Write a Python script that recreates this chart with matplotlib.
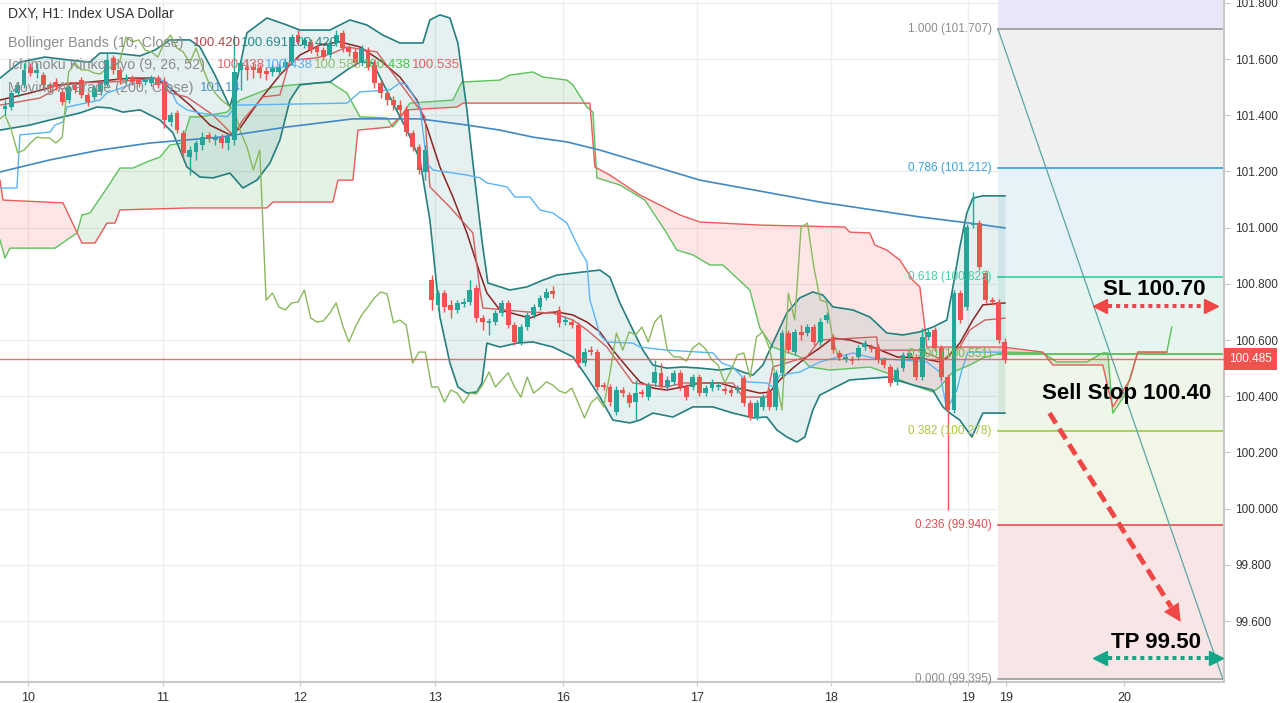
import numpy as np
import matplotlib.pyplot as plt
from matplotlib.transforms import blended_transform_factory

plt.rcParams['font.family'] = ['Liberation Sans', 'DejaVu Sans']

W, H = 1280, 703

# ---- H1 candles, one per bar index ----
opens = [
    101.422, 101.429, 101.479, 101.508, 101.572, 101.550, 101.543, 101.508, 101.518, 101.483,
    101.454, 101.508, 101.525, 101.472, 101.465, 101.483, 101.508, 101.604, 101.561, 101.525,
    101.532, 101.525, 101.518, 101.515, 101.532, 101.518, 101.376, 101.408, 101.337, 101.251,
    101.269, 101.294, 101.330, 101.312, 101.319, 101.301, 101.312, 101.561, 101.572, 101.572,
    101.568, 101.557, 101.554, 101.554, 101.572, 101.589, 101.685, 101.650, 101.661, 101.643,
    101.632, 101.614, 101.657, 101.693, 101.639, 101.625, 101.586, 101.632, 101.579, 101.515,
    101.479, 101.454, 101.436, 101.419, 101.337, 101.287, 101.198, 100.814, 100.725, 100.767,
    100.725, 100.707, 100.728, 100.735, 100.785, 100.678, 100.661, 100.664, 100.696, 100.732,
    100.653, 100.593, 100.646, 100.689, 100.718, 100.750, 100.774, 100.707, 100.664, 100.664,
    100.653, 100.518, 100.564, 100.557, 100.440, 100.433, 100.344, 100.422, 100.404, 100.379,
    100.415, 100.397, 100.447, 100.483, 100.433, 100.451, 100.483, 100.433, 100.433, 100.468,
    100.411, 100.429, 100.433, 100.426, 100.422, 100.422, 100.465, 100.376, 100.323, 100.362,
    100.415, 100.362, 100.483, 100.625, 100.557, 100.629, 100.625, 100.646, 100.593, 100.671,
    100.611, 100.554, 100.532, 100.532, 100.540, 100.575, 100.575, 100.575, 100.529, 100.504,
    100.451, 100.500, 100.540, 100.540, 100.468, 100.611, 100.636, 100.572, 100.468, 100.351,
    100.767, 100.718, 101.009, 101.016, 100.839, 100.742, 100.735, 100.593]
highs = [
    101.454, 101.490, 101.518, 101.586, 101.586, 101.586, 101.554, 101.518, 101.532, 101.497,
    101.508, 101.518, 101.536, 101.483, 101.508, 101.525, 101.621, 101.614, 101.572, 101.547,
    101.543, 101.536, 101.536, 101.543, 101.543, 101.536, 101.411, 101.419, 101.347, 101.290,
    101.312, 101.340, 101.340, 101.333, 101.333, 101.337, 101.685, 101.604, 101.596, 101.589,
    101.582, 101.572, 101.582, 101.586, 101.604, 101.689, 101.703, 101.678, 101.671, 101.653,
    101.643, 101.668, 101.703, 101.703, 101.650, 101.639, 101.650, 101.643, 101.596, 101.525,
    101.490, 101.468, 101.454, 101.433, 101.347, 101.298, 101.294, 100.831, 100.778, 100.778,
    100.742, 100.742, 100.750, 100.814, 100.796, 100.689, 100.678, 100.707, 100.742, 100.742,
    100.664, 100.657, 100.700, 100.728, 100.760, 100.785, 100.792, 100.721, 100.686, 100.675,
    100.664, 100.572, 100.579, 100.568, 100.451, 100.443, 100.436, 100.433, 100.415, 100.458,
    100.426, 100.451, 100.529, 100.518, 100.472, 100.493, 100.493, 100.443, 100.479, 100.479,
    100.440, 100.461, 100.451, 100.436, 100.433, 100.440, 100.475, 100.387, 100.387, 100.408,
    100.429, 100.493, 100.636, 100.636, 100.639, 100.653, 100.657, 100.657, 100.678, 100.700,
    100.621, 100.564, 100.550, 100.543, 100.582, 100.600, 100.586, 100.586, 100.540, 100.515,
    100.504, 100.557, 100.564, 100.550, 100.643, 100.639, 100.646, 100.582, 100.479, 100.778,
    100.778, 101.013, 101.127, 101.027, 100.849, 100.753, 100.746, 100.607]
lows = [
    101.401, 101.419, 101.465, 101.497, 101.540, 101.532, 101.497, 101.483, 101.490, 101.436,
    101.443, 101.479, 101.461, 101.433, 101.454, 101.472, 101.497, 101.547, 101.511, 101.515,
    101.508, 101.500, 101.508, 101.504, 101.497, 101.354, 101.362, 101.337, 101.248, 101.187,
    101.241, 101.276, 101.305, 101.294, 101.283, 101.276, 101.294, 101.490, 101.525, 101.532,
    101.532, 101.525, 101.540, 101.540, 101.561, 101.579, 101.650, 101.639, 101.621, 101.611,
    101.596, 101.604, 101.646, 101.625, 101.611, 101.575, 101.575, 101.561, 101.497, 101.461,
    101.436, 101.419, 101.401, 101.326, 101.273, 101.191, 101.169, 100.707, 100.707, 100.700,
    100.678, 100.696, 100.718, 100.725, 100.664, 100.636, 100.618, 100.653, 100.686, 100.643,
    100.582, 100.582, 100.636, 100.678, 100.707, 100.742, 100.750, 100.646, 100.653, 100.643,
    100.504, 100.508, 100.547, 100.422, 100.422, 100.365, 100.333, 100.397, 100.362, 100.315,
    100.397, 100.387, 100.436, 100.422, 100.422, 100.440, 100.422, 100.387, 100.422, 100.401,
    100.401, 100.419, 100.422, 100.408, 100.401, 100.411, 100.365, 100.315, 100.315, 100.351,
    100.351, 100.351, 100.472, 100.554, 100.547, 100.600, 100.614, 100.582, 100.582, 100.661,
    100.554, 100.529, 100.522, 100.515, 100.529, 100.564, 100.557, 100.518, 100.500, 100.436,
    100.440, 100.490, 100.529, 100.458, 100.458, 100.600, 100.561, 100.458, 99.995, 100.340,
    100.661, 100.707, 100.999, 100.849, 100.732, 100.725, 100.589, 100.518]
closes = [
    101.433, 101.479, 101.508, 101.561, 101.550, 101.561, 101.508, 101.497, 101.500, 101.447,
    101.500, 101.490, 101.472, 101.447, 101.497, 101.515, 101.596, 101.561, 101.525, 101.532,
    101.518, 101.511, 101.525, 101.532, 101.508, 101.383, 101.401, 101.347, 101.266, 101.276,
    101.301, 101.322, 101.319, 101.319, 101.301, 101.322, 101.554, 101.586, 101.561, 101.561,
    101.550, 101.547, 101.568, 101.572, 101.589, 101.678, 101.661, 101.668, 101.632, 101.625,
    101.607, 101.657, 101.685, 101.639, 101.625, 101.586, 101.639, 101.572, 101.515, 101.479,
    101.454, 101.436, 101.419, 101.340, 101.287, 101.205, 101.276, 100.742, 100.767, 100.718,
    100.707, 100.732, 100.735, 100.778, 100.678, 100.664, 100.668, 100.696, 100.732, 100.653,
    100.593, 100.646, 100.689, 100.718, 100.750, 100.771, 100.764, 100.661, 100.671, 100.653,
    100.518, 100.557, 100.557, 100.433, 100.433, 100.379, 100.422, 100.411, 100.376, 100.411,
    100.408, 100.440, 100.486, 100.433, 100.458, 100.483, 100.433, 100.397, 100.468, 100.411,
    100.429, 100.451, 100.440, 100.419, 100.411, 100.429, 100.376, 100.323, 100.376, 100.397,
    100.362, 100.483, 100.625, 100.564, 100.629, 100.618, 100.646, 100.593, 100.664, 100.689,
    100.564, 100.540, 100.540, 100.525, 100.572, 100.589, 100.568, 100.529, 100.511, 100.447,
    100.493, 100.547, 100.554, 100.468, 100.611, 100.629, 100.572, 100.468, 100.351, 100.767,
    100.671, 101.002, 101.016, 100.860, 100.742, 100.735, 100.600, 100.529]

day_pos = [3.61, 24.80, 46.31, 67.50, 87.60, 108.63, 129.67, 151.18, 157.14, 175.67]
day_labels = ['10', '11', '12', '13', '16', '17', '18', '19', '19', '20']

# ---- indicator traces (bar index, price) ----
ma200 = [(-0.78, 101.198), (7.06, 101.241), (14.91, 101.276), (22.76, 101.301), (33.75, 101.322),
         (44.27, 101.358), (54.63, 101.387), (65.15, 101.387), (72.53, 101.365), (77.71, 101.347),
         (82.89, 101.322), (88.23, 101.305), (93.41, 101.276), (109.11, 101.169), (127.94, 101.091),
         (143.64, 101.038), (151.49, 101.016), (157.0, 100.999)]

bb_upper = [(-0.78, 101.532), (2.35, 101.589), (6.28, 101.607), (10.20, 101.596), (13.34, 101.589),
            (14.91, 101.621), (17.27, 101.621), (21.19, 101.611), (23.55, 101.632), (25.90, 101.668),
            (29.04, 101.668), (30.61, 101.643), (32.97, 101.543), (35.32, 101.429), (36.42, 101.525),
            (37.99, 101.693), (41.13, 101.746), (44.27, 101.721), (46.31, 101.703), (51.02, 101.703),
            (54.16, 101.739), (56.83, 101.721), (59.34, 101.685), (62.01, 101.657), (65.62, 101.657),
            (66.72, 101.739), (68.29, 101.757), (69.86, 101.746), (71.11, 101.657), (72.53, 101.419),
            (73.78, 101.169), (74.88, 100.956), (75.82, 100.803), (79.28, 100.778), (81.95, 100.789),
            (84.46, 100.813), (86.66, 100.831), (89.17, 100.838), (93.41, 100.849), (94.98, 100.824),
            (96.55, 100.732), (98.59, 100.636), (100.16, 100.564), (101.73, 100.511), (103.92, 100.500),
            (106.44, 100.504), (109.11, 100.500), (112.24, 100.493), (114.29, 100.500), (115.86, 100.486),
            (117.43, 100.475), (118.99, 100.511), (120.56, 100.589), (122.76, 100.696), (124.80, 100.750),
            (126.84, 100.771), (128.41, 100.760), (129.98, 100.718), (133.12, 100.707), (135.79, 100.682),
            (138.46, 100.625), (140.97, 100.618), (143.64, 100.629), (145.68, 100.646), (147.88, 100.671),
            (148.67, 100.767), (149.92, 100.931), (151.02, 101.052), (151.96, 101.105), (153.53, 101.113),
            (157.0, 101.113)]

bb_lower = [(-0.78, 101.347), (3.92, 101.365), (7.06, 101.383), (11.77, 101.408), (14.44, 101.429),
            (16.48, 101.426), (18.52, 101.411), (21.19, 101.419), (24.33, 101.383), (26.37, 101.337),
            (28.57, 101.216), (30.61, 101.180), (32.65, 101.177), (35.32, 101.194), (37.36, 101.141),
            (39.56, 101.169), (41.60, 101.230), (43.17, 101.312), (44.74, 101.454), (46.31, 101.508),
            (48.98, 101.515), (51.02, 101.518), (53.69, 101.561), (55.73, 101.589), (57.77, 101.586),
            (60.91, 101.443), (63.11, 101.347), (65.15, 101.241), (66.72, 101.027), (68.29, 100.682),
            (69.86, 100.518), (71.11, 100.433), (72.53, 100.411), (74.10, 100.415), (74.88, 100.447),
            (75.67, 100.589), (77.71, 100.575), (80.38, 100.589), (82.89, 100.593), (86.03, 100.575),
            (89.17, 100.540), (91.37, 100.468), (93.41, 100.397), (95.45, 100.315), (98.12, 100.305),
            (99.69, 100.315), (101.73, 100.340), (104.87, 100.326), (108.01, 100.362), (111.15, 100.362),
            (114.29, 100.340), (117.43, 100.323), (119.62, 100.326), (121.19, 100.280), (122.76, 100.255),
            (124.33, 100.237), (125.59, 100.255), (126.84, 100.351), (127.94, 100.404), (132.65, 100.458),
            (138.46, 100.468), (142.54, 100.440), (145.68, 100.422), (147.25, 100.362), (148.35, 100.340),
            (149.92, 100.315), (151.81, 100.255), (153.53, 100.340), (157.0, 100.340)]

bb_basis = [(-0.78, 101.454), (3.92, 101.479), (8.63, 101.508), (13.34, 101.518), (19.62, 101.532),
            (23.55, 101.532), (25.90, 101.497), (29.04, 101.436), (32.18, 101.365), (35.32, 101.330),
            (36.89, 101.354), (40.03, 101.454), (43.17, 101.543), (46.31, 101.614), (49.45, 101.650),
            (52.59, 101.661), (55.73, 101.643), (58.87, 101.596), (62.01, 101.536), (64.68, 101.454),
            (66.25, 101.358), (68.29, 101.216), (70.33, 101.109), (72.53, 100.981), (74.57, 100.838),
            (75.67, 100.767), (77.71, 100.707), (82.42, 100.678), (84.46, 100.696), (86.66, 100.700),
            (89.17, 100.689), (91.37, 100.664), (93.41, 100.629), (95.45, 100.564), (97.65, 100.504),
            (99.69, 100.451), (101.73, 100.429), (103.92, 100.422), (106.44, 100.433), (109.11, 100.447),
            (112.24, 100.447), (114.29, 100.433), (118.52, 100.411), (120.09, 100.415), (121.66, 100.458),
            (123.70, 100.500), (125.90, 100.540), (127.94, 100.572), (129.98, 100.607), (132.65, 100.600),
            (136.26, 100.575), (140.03, 100.540), (143.64, 100.536), (146.78, 100.522), (147.88, 100.536),
            (149.92, 100.589), (151.96, 100.671), (153.53, 100.725), (157.0, 100.732)]

conversion = [(-0.78, 101.436), (5.49, 101.461), (9.73, 101.515), (16.48, 101.518), (24.33, 101.532),
              (25.90, 101.479), (28.57, 101.465), (32.65, 101.401), (35.79, 101.330), (37.36, 101.383),
              (40.50, 101.465), (43.17, 101.472), (44.74, 101.596), (48.98, 101.604), (51.49, 101.621),
              (53.69, 101.643), (58.40, 101.625), (62.01, 101.515), (65.93, 101.394), (66.72, 101.145),
              (69.86, 101.073), (73.47, 100.981), (74.57, 100.778), (75.04, 100.714), (81.95, 100.700),
              (86.03, 100.696), (89.17, 100.671), (91.37, 100.636), (94.51, 100.575), (98.59, 100.447),
              (103.92, 100.433), (106.44, 100.447), (114.29, 100.447), (115.86, 100.397), (119.62, 100.397),
              (120.56, 100.504), (125.90, 100.540), (127.94, 100.600), (136.89, 100.611), (137.05, 100.564),
              (143.64, 100.564), (147.25, 100.529), (149.92, 100.575), (151.49, 100.636), (153.85, 100.671),
              (157.0, 100.678)]

base_line = [(-0.78, 101.141), (1.88, 101.141), (2.35, 101.330), (7.06, 101.340), (7.85, 101.365),
             (9.11, 101.376), (9.73, 101.429), (14.91, 101.454), (16.01, 101.479), (19.62, 101.508),
             (23.23, 101.532), (25.43, 101.518), (27.00, 101.443), (28.57, 101.419), (30.61, 101.408),
             (34.85, 101.394), (36.42, 101.436), (53.69, 101.443), (55.73, 101.483), (60.44, 101.490),
             (62.01, 101.515), (63.11, 101.508), (65.15, 101.429), (66.25, 101.230), (67.19, 101.205),
             (72.53, 101.187), (74.57, 101.177), (75.67, 101.159), (78.81, 101.145), (80.06, 101.109),
             (82.42, 101.109), (83.99, 101.063), (86.03, 101.052), (88.23, 101.016), (90.27, 100.920),
             (91.37, 100.878), (91.84, 100.742), (92.31, 100.707), (93.41, 100.618), (94.51, 100.593),
             (98.59, 100.589), (99.69, 100.575), (103.92, 100.564), (109.11, 100.557), (111.15, 100.554),
             (112.56, 100.518), (114.29, 100.504), (116.48, 100.451), (119.62, 100.447), (120.56, 100.433),
             (121.66, 100.475), (124.80, 100.486), (127.94, 100.522), (133.12, 100.554), (136.26, 100.536),
             (144.74, 100.522), (146.78, 100.486), (147.88, 100.351), (149.45, 100.422), (150.24, 100.493),
             (151.18, 100.557), (157.0, 100.557)]

lead_a = [(-0.78, 100.956), (0.0, 100.892), (0.78, 100.927), (7.85, 100.927), (11.30, 100.981),
          (12.09, 101.045), (13.34, 101.052), (16.01, 101.141), (18.05, 101.212), (20.09, 101.212),
          (22.29, 101.234), (24.33, 101.251), (25.90, 101.294), (27.79, 101.301), (29.04, 101.394),
          (30.61, 101.394), (34.85, 101.411), (36.89, 101.454), (42.07, 101.500), (45.21, 101.508),
          (51.02, 101.518), (53.69, 101.479), (55.73, 101.394), (59.97, 101.390), (60.91, 101.358),
          (62.01, 101.390), (63.58, 101.443), (70.33, 101.454), (71.74, 101.518), (77.71, 101.525),
          (79.28, 101.543), (82.89, 101.554), (84.46, 101.536), (88.23, 101.525), (89.17, 101.508),
          (91.37, 101.429), (92.31, 101.411), (92.94, 101.177), (96.55, 101.152), (100.47, 101.098),
          (103.61, 100.991), (105.49, 100.920), (108.01, 100.903), (110.68, 100.867), (112.72, 100.867),
          (116.95, 100.778), (118.52, 100.643), (120.56, 100.575), (124.80, 100.540), (126.37, 100.504),
          (129.51, 100.493), (135.79, 100.504), (138.46, 100.483), (140.50, 100.458), (142.54, 100.440),
          (145.68, 100.415), (146.78, 100.433), (148.82, 100.486), (151.49, 100.511), (153.53, 100.536),
          (157.0, 100.557), (162.95, 100.554), (165.15, 100.522), (169.86, 100.522), (172.37, 100.554),
          (173.16, 100.554), (173.94, 100.340), (175.82, 100.404), (177.86, 100.557), (182.42, 100.557),
          (183.20, 100.646)]

lead_b = [(-0.78, 101.169), (-0.31, 101.098), (9.11, 101.088), (12.09, 100.945), (14.13, 100.945),
          (16.01, 101.016), (17.27, 101.016), (18.05, 101.063), (29.04, 101.070), (41.13, 101.070),
          (42.07, 101.091), (51.49, 101.091), (52.28, 101.169), (54.63, 101.169), (55.42, 101.347),
          (60.44, 101.358), (63.11, 101.419), (70.96, 101.429), (71.90, 101.443), (91.84, 101.443),
          (92.62, 101.216), (94.98, 101.187), (99.69, 101.116), (105.97, 101.045), (109.11, 101.020),
          (118.52, 101.009), (131.87, 101.002), (132.65, 100.984), (135.79, 100.981), (136.58, 100.938),
          (138.46, 100.920), (140.50, 100.885), (142.54, 100.813), (143.64, 100.789), (144.43, 100.646),
          (144.74, 100.575), (156.67, 100.575), (162.95, 100.557), (164.52, 100.511), (172.37, 100.511),
          (173.16, 100.433), (173.94, 100.362), (176.61, 100.458), (177.86, 100.557), (182.42, 100.557)]

last_price_line = 100.532
last_price_text = '100.485'

fib_ratios = [1.0, 0.786, 0.618, 0.5, 0.382, 0.236, 0.0]
fib_prices = [101.707, 101.212, 100.823, 100.551, 100.278, 99.940, 99.395]
fib_line_colors = ['#9a9a9a', '#2f9fe0', '#35d0a0', '#4cbb4c', '#9ccc34', '#e05252', '#9a9a9a']
fib_text_colors = ['#8c8c8c', '#3aa3e0', '#45cfa3', '#66c04a', '#a5c83c', '#e05050', '#8c8c8c']
fib_zone_colors = ['#e8e7f7', '#f0f0f0', '#e6f2f8', '#e6f5f0', '#edf6e8', '#f2f6e7', '#f8e6e7']


def split(pts):
    a = np.array(pts)
    return a[:, 0], a[:, 1]


fig = plt.figure(figsize=(W / 100, H / 100), dpi=100)
ax = fig.add_axes([0, 1 - 682 / H, 1224 / W, 682 / H])
X0, X1 = -0.78, 191.4
Y0, Y1 = 99.383, 101.81
ax.set_xlim(X0, X1)
ax.set_ylim(Y0, Y1)

# grid
yt = np.round(np.arange(99.6, 101.81, 0.2), 1)
for v in yt:
    ax.axhline(v, color='#eeeeee', lw=1, zorder=0)
for d in day_pos:
    ax.axvline(d, color='#eeeeee', lw=1, zorder=0)

# fibonacci retracement zones
fx0 = 155.9
tops = [Y1] + fib_prices[:-1]
for top, bot, col in zip(tops, fib_prices, fib_zone_colors):
    ax.fill_between([fx0, X1], bot, top, color=col, lw=0, zorder=0.5)
for r, p, lc, tc in zip(fib_ratios, fib_prices, fib_line_colors, fib_text_colors):
    ax.plot([fx0, X1], [p, p], color=lc, lw=1.2, zorder=0.6)
    ax.text(154.95, p, f"{r:.3f} ({p:.3f})", ha='right', va='center', color=tc,
            fontsize=8.5, zorder=7)
ax.plot([fx0, 191.2], [fib_prices[0], fib_prices[-1]], color='#5aa5a5', lw=0.9, zorder=2)

# ichimoku cloud
ax_, ay_ = split(lead_a)
bx_, by_ = split(lead_b)
g = np.linspace(X0, 182.4, 3000)
ga = np.interp(g, ax_, ay_)
gb = np.interp(g, bx_, by_)
ax.fill_between(g, ga, gb, where=ga >= gb, interpolate=True, color='#43a047', alpha=0.14, lw=0, zorder=1)
ax.fill_between(g, ga, gb, where=ga < gb, interpolate=True, color='#f44336', alpha=0.13, lw=0, zorder=1)
ax.plot(ax_, ay_, color='#5cc25c', lw=1, zorder=2)
ax.plot(bx_, by_, color='#ec5a5a', lw=1, zorder=2)

# bollinger bands
ux, uy = split(bb_upper)
lx, ly = split(bb_lower)
g2 = np.linspace(X0, 157.0, 3000)
ax.fill_between(g2, np.interp(g2, ux, uy), np.interp(g2, lx, ly), color='#2e8b8b', alpha=0.12, lw=0, zorder=1.2)
ax.plot(ux, uy, color='#257f7f', lw=1.2, zorder=3)
ax.plot(lx, ly, color='#257f7f', lw=1.2, zorder=3)
ax.plot(*split(bb_basis), color='#8b2323', lw=1.1, zorder=3)

# ichimoku lines
ax.plot(*split(conversion), color='#d06060', lw=1, zorder=3)
ax.plot(*split(base_line), color='#5ab4f5', lw=1, zorder=3)
xb = np.arange(len(closes))
ax.plot(xb - 26, closes, color='#8ab85c', lw=1, zorder=3)  # lagging span

# MA 200
ax.plot(*split(ma200), color='#4189c4', lw=1.2, zorder=3)

# candles
o = np.array(opens); c = np.array(closes)
cols = np.where(c >= o, '#26a69a', '#ef5350')
ax.vlines(xb, lows, highs, colors=cols, lw=1, zorder=4)
ax.bar(xb, np.maximum(np.abs(c - o), 0.004), bottom=np.minimum(o, c), width=0.76,
       color=cols, lw=0, zorder=5)

# last price line + label
ax.axhline(last_price_line, color='#ef5350', lw=1, alpha=0.85, zorder=6)
trans = blended_transform_factory(ax.transAxes, ax.transData)
ax.text(1.0 + 5 / 1224, last_price_line, last_price_text, transform=trans, ha='left', va='center',
        color='white', fontsize=8.5, clip_on=False, zorder=10,
        bbox=dict(boxstyle='square,pad=0.4', fc='#ef5350', ec='none'))

# trade annotations
red = '#f04646'
teal = '#17a589'
ax.text(180.5, 100.778, 'SL 100.70', ha='center', va='center', fontsize=16, fontweight='bold', zorder=9)
ax.plot([171.9, 189.3], [100.721, 100.721], ls=(0, (1, 1)), lw=2.9, color=red, zorder=8)
ax.plot([171.9], [100.721], marker='<', ms=10, color=red, mec=red, zorder=8)
ax.plot([189.3], [100.721], marker='>', ms=10, color=red, mec=red, zorder=8)

ax.text(176.1, 100.411, 'Sell Stop 100.40', ha='center', va='center', fontsize=16, fontweight='bold', zorder=9)
ax.plot([164.0, 183.1], [100.340, 99.650], ls=(0, (2.5, 1.3)), lw=3.5, color=red, zorder=8)
ax.annotate('', xy=(184.6, 99.597), xytext=(183.1, 99.650),
            arrowprops=dict(arrowstyle='-|>,head_length=0.9,head_width=0.45', mutation_scale=14,
                            color=red, lw=0, shrinkA=0, shrinkB=0), zorder=8)

ax.text(180.7, 99.522, 'TP 99.50', ha='center', va='center', fontsize=16, fontweight='bold', zorder=9)
ax.plot([171.9, 190.1], [99.468, 99.468], ls=(0, (1, 1)), lw=2.9, color=teal, zorder=8)
ax.plot([171.9], [99.468], marker='<', ms=10, color=teal, mec=teal, zorder=8)
ax.plot([190.1], [99.468], marker='>', ms=10, color=teal, mec=teal, zorder=8)

# axes styling
ax.yaxis.tick_right()
ax.set_yticks(yt)
ax.set_yticklabels([f"{v:.3f}" for v in yt])
ax.set_xticks(day_pos)
ax.set_xticklabels(day_labels)
ax.tick_params(axis='y', labelsize=8.5, labelcolor='#333333', color='#c8c8c8', length=4, pad=4)
ax.tick_params(axis='x', labelsize=9, labelcolor='#333333', color='#c8c8c8', length=3, pad=4)
for s in ['top', 'left']:
    ax.spines[s].set_visible(False)
for s in ['bottom', 'right']:
    ax.spines[s].set_color('#c8c8c8')
    ax.spines[s].set_linewidth(1.5)

# legend block (top-left)
def ftext(x, y, s, color, size=9.5):
    fig.text(x / W, 1 - y / H, s, color=color, fontsize=size, ha='left', va='center', zorder=20)

ftext(8, 14, 'DXY, H1: Index USA Dollar', '#333333', 10)
ftext(8, 43, 'Bollinger Bands (10, Close)', '#8c8c8c', 10.4)
ftext(193, 43, '100.420', '#a84848')
ftext(241, 43, '100.691', '#2a8a8a')
ftext(290, 43, '100.420', '#2a8a8a')
ftext(8, 65, 'Ichimoku Kinko Hyo (9, 26, 52)', '#8c8c8c', 10.4)
ftext(217, 65, '100.438', '#d66a6a')
ftext(265, 65, '100.438', '#5ab0f0')
ftext(314, 65, '100.585', '#8fbf6a')
ftext(363, 65, '100.438', '#4fc04f')
ftext(412, 65, '100.535', '#e86060')
ftext(8, 88, 'Moving Average (200, Close)', '#8c8c8c', 10.4)
ftext(200, 88, '101.14', '#4a8fc1')

fig.savefig('out.png', dpi=100)
